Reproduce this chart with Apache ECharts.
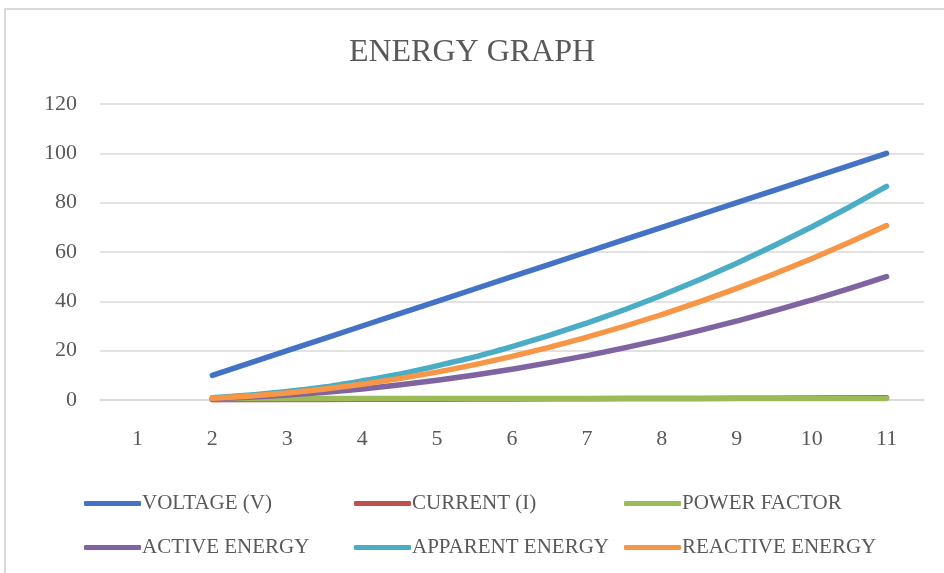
<!DOCTYPE html>
<html>
<head>
<meta charset="utf-8">
<script src="https://cdn.jsdelivr.net/npm/echarts@6/dist/echarts.min.js"></script>
<style>html,body{margin:0;padding:0;background:#fff;}#c{width:944px;height:573px;}</style>
</head>
<body>
<div id="c"></div>
<script>
const categories = ['1','2','3','4','5','6','7','8','9','10','11'];
const voltage = [null, 10, 20, 30, 40, 50, 60, 70, 80, 90, 100];
const current = [null, 0.087, 0.173, 0.26, 0.346, 0.433, 0.52, 0.606, 0.693, 0.78, 0.866];
const powerFactor = [null, 0.577, 0.577, 0.577, 0.577, 0.577, 0.577, 0.577, 0.577, 0.577, 0.577];
const activeEnergy = [null, 0.5, 2, 4.5, 8, 12.5, 18, 24.5, 32, 40.5, 50];
const apparentEnergy = [null, 0.87, 3.46, 7.79, 13.86, 21.65, 31.18, 42.44, 55.43, 70.15, 86.6];
const reactiveEnergy = [null, 0.71, 2.83, 6.36, 11.31, 17.68, 25.46, 34.65, 45.25, 57.28, 70.71];
const yTicks = [0, 20, 40, 60, 80, 100, 120];

const names = ['VOLTAGE (V)','CURRENT (I)','POWER FACTOR','ACTIVE ENERGY','APPARENT ENERGY','REACTIVE ENERGY'];
const colors = ['#4472C4','#C0504D','#9BBB59','#8064A2','#4BACC6','#F79646'];
const datas = [voltage, current, powerFactor, activeEnergy, apparentEnergy, reactiveEnergy];
const FONT = 'Liberation Serif';
const TXT = '#595959';

const legendPos = [[79,488],[349,488],[619,488],[79,532],[349,532],[619,532]];
const legends = names.map((n,i)=>({
  data:[n], left: legendPos[i][0], top: legendPos[i][1],
  itemWidth: 57, itemHeight: 5, itemGap: 0,
  icon: 'roundRect',
  textStyle:{fontFamily:FONT, fontSize:21, color:TXT, padding:[0,0,0,-4]}
}));

const chart = echarts.init(document.getElementById('c'));
chart.setOption({
  animation:false,
  backgroundColor:'#fff',
  graphic:[{type:'rect', shape:{x:5,y:9,width:980,height:620}, style:{fill:'none', stroke:'#d9d9d9', lineWidth:2}, silent:true}],
  title:{text:'ENERGY GRAPH', left:'center', top:32, textStyle:{fontFamily:FONT, fontSize:32, fontWeight:'normal', color:TXT}},
  legend: legends,
  grid:{left:100, right:20, top:104, bottom:173, containLabel:false},
  xAxis:{type:'category', data:categories, boundaryGap:true,
    axisLine:{show:true, lineStyle:{color:'#d9d9d9', width:1.5}},
    axisTick:{show:false},
    axisLabel:{fontFamily:FONT, fontSize:22, color:TXT, margin:28}},
  yAxis:{type:'value', min:0, max:120, interval:20,
    axisLine:{show:false}, axisTick:{show:false},
    splitLine:{lineStyle:{color:'#d9d9d9', width:1.5}},
    axisLabel:{fontFamily:FONT, fontSize:22, color:TXT, margin:23,
      formatter: v => yTicks.includes(v) ? String(v) : ''}},
  series: names.map((n,i)=>({
    name:n, type:'line', data:datas[i], smooth:true, showSymbol:false, symbol:'none',
    connectNulls:false,
    lineStyle:{color:colors[i], width:5.5, cap:'round', join:'round'},
    itemStyle:{color:colors[i]}
  }))
});
</script>
</body>
</html>
